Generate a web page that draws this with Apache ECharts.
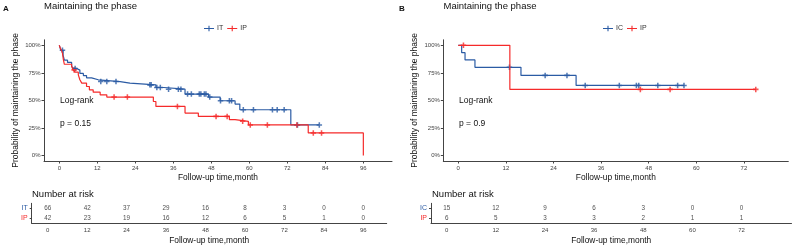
<!DOCTYPE html>
<html lang="en">

<head>
    <meta charset="UTF-8">
    <title>Maintaining the phase</title>
    <script src="https://cdn.jsdelivr.net/npm/echarts@6/dist/echarts.min.js"></script>
    <style>
        html, body { margin: 0; padding: 0; background: #fff; }
        #km { width: 795px; height: 248px; }
    </style>
</head>

<body>
    <div id="km"></div>
    <script>
        // ---- data ----
        const monthTicksA = [0, 12, 24, 36, 48, 60, 72, 84, 96];
        const monthTicksB = [0, 12, 24, 36, 48, 60, 72];
        const pctTicks = [0, 0.25, 0.5, 0.75, 1];

        // panel A, IT
        const itTime = [0, 0.5, 1.2, 1.6, 2.6, 3.9, 4.4, 5.5, 6.5, 7.6, 8.6, 10.2, 12.3, 19.2, 22.3, 30.5, 33.0, 39.7, 47.1, 50.8, 55.5, 57.0, 73.1, 82.1];
        const itSurv = [1, 0.955, 0.91, 0.865, 0.845, 0.81, 0.79, 0.775, 0.745, 0.725, 0.705, 0.687, 0.671, 0.657, 0.641, 0.617, 0.602, 0.557, 0.53, 0.497, 0.467, 0.415, 0.277, 0.277];
        const itCensor = [1.0, 5.0, 13.1, 15.0, 17.9, 28.6, 29.0, 30.8, 31.9, 34.5, 37.6, 38.4, 40.5, 41.7, 44.2, 44.7, 45.8, 46.3, 47.5, 50.9, 53.7, 54.4, 58.1, 61.3, 67.3, 68.8, 71.0, 75.2, 82.1];
        // panel A, IP
        const ipaTime = [0, 0.3, 0.7, 1.0, 1.3, 1.6, 3.9, 4.4, 5.0, 6.0, 6.5, 7.1, 8.6, 9.5, 10.7, 12.9, 15.0, 29.7, 30.5, 39.7, 43.9, 53.7, 55.5, 59.7, 78.6, 96];
        const ipaSurv = [1, 0.976, 0.952, 0.929, 0.867, 0.828, 0.807, 0.777, 0.756, 0.732, 0.687, 0.657, 0.626, 0.596, 0.575, 0.551, 0.53, 0.49, 0.445, 0.385, 0.355, 0.325, 0.31, 0.277, 0.205, 0];
        const ipaCensor = [4.7, 17.3, 21.5, 37.3, 49.5, 53.0, 57.9, 60.3, 65.7, 75.0, 80.2, 82.8];

        // panel B, IC
        const icTime = [0, 0.85, 1.7, 4.2, 15.8, 29.7, 57.0];
        const icSurv = [1, 0.933, 0.867, 0.8, 0.727, 0.636, 0.636];
        const icCensor = [12.9, 21.9, 27.4, 32.0, 40.6, 44.9, 45.5, 50.3, 55.3, 56.9];
        // panel B, IP
        const ipbTime = [0, 13.0, 75.0];
        const ipbSurv = [1, 0.6, 0.6];
        const ipbCensor = [1.3, 45.9, 53.4, 75.0];

        // number at risk
        const riskIT = [66, 42, 37, 29, 16, 8, 3, 0, 0];
        const riskIPa = [42, 23, 19, 16, 12, 6, 5, 1, 0];
        const riskIC = [15, 12, 9, 6, 3, 0, 0];
        const riskIPb = [6, 5, 3, 3, 2, 1, 1];

        const BLUE = '#2B5BA4';
        const RED = '#F52A2A';
        const FONT = 'Liberation Sans, Arial, sans-serif';
        const PLUS = 'path://M1.8,0H3.2V1.8H5V3.2H3.2V5H1.8V3.2H0V1.8H1.8Z';
        const LEG_ICON = 'path://M0,2.6H10V3.4H0Z M4.45,0.3H5.55V5.7H4.45Z M2.9,2.4H7.1V3.6H2.9Z';

        function survAt(times, surv, t) {
            let v = surv[0];
            for (let i = 0; i < times.length; i++) {
                if (times[i] <= t) v = surv[i];
            }
            return v;
        }
        function curve(times, surv) {
            return times.map((t, i) => [t, surv[i]]);
        }
        function marks(times, surv, cens) {
            return cens.map(t => [t, survAt(times, surv, t)]);
        }

        function kmLine(name, color, times, surv, idx) {
            return {
                name: name, type: 'line', step: 'end', xAxisIndex: idx, yAxisIndex: idx,
                symbol: 'none', data: curve(times, surv),
                lineStyle: { color: color, width: 1.2 }, itemStyle: { color: color }
            };
        }
        function kmCensor(name, color, times, surv, cens, idx) {
            return {
                name: name, type: 'scatter', xAxisIndex: idx, yAxisIndex: idx,
                symbol: PLUS, symbolSize: 5.5, data: marks(times, surv, cens),
                itemStyle: { color: color }
            };
        }
        function riskRow(name, ticks, values, idx) {
            return {
                name: 'risk-' + name, type: 'scatter', xAxisIndex: idx, yAxisIndex: idx,
                symbolSize: 0, silent: true,
                data: ticks.map((t, i) => [t, name, values[i]]),
                label: {
                    show: true, position: 'inside', formatter: p => p.value[2],
                    color: '#222', fontSize: 6.3, fontFamily: FONT
                }
            };
        }

        const axisLine = { show: true, onZero: false, lineStyle: { color: '#444', width: 1 } };
        const tickLbl = { color: '#444', fontSize: 6, fontFamily: FONT };

        function mainX(idx, min, max, ticks) {
            return {
                type: 'value', gridIndex: idx, min: min, max: max,
                name: 'Follow-up time,month', nameLocation: 'middle', nameGap: 12.5,
                nameTextStyle: { color: '#111', fontSize: 8.4, fontFamily: FONT },
                axisLine: axisLine, splitLine: { show: false },
                axisTick: { show: true, length: 2.5, customValues: ticks, lineStyle: { color: '#444' } },
                axisLabel: Object.assign({ margin: 4, customValues: ticks }, tickLbl)
            };
        }
        function mainY(idx) {
            return {
                type: 'value', gridIndex: idx, min: -0.05, max: 1.05,
                name: 'Probability of maintaining the phase', nameLocation: 'middle', nameGap: 24,
                nameTextStyle: { color: '#111', fontSize: 8.5, fontFamily: FONT },
                axisLine: axisLine, splitLine: { show: false },
                axisTick: { show: true, length: 2.5, customValues: pctTicks, lineStyle: { color: '#444' } },
                axisLabel: Object.assign({
                    margin: 3.5, customValues: pctTicks,
                    formatter: v => Math.round(v * 100) + '%'
                }, tickLbl)
            };
        }
        function riskX(idx, min, max, ticks) {
            return {
                type: 'value', gridIndex: idx, min: min, max: max,
                name: 'Follow-up time,month', nameLocation: 'middle', nameGap: 13,
                nameTextStyle: { color: '#111', fontSize: 8.4, fontFamily: FONT },
                axisLine: axisLine, splitLine: { show: false },
                axisTick: { show: false },
                axisLabel: Object.assign({ margin: 4.5, customValues: ticks }, tickLbl)
            };
        }
        function riskY(idx, rows, colors) {
            return {
                type: 'category', gridIndex: idx, data: rows,
                axisLine: axisLine, splitLine: { show: false },
                axisTick: { show: true, length: 2, alignWithLabel: true, lineStyle: { color: '#444' } },
                axisLabel: {
                    margin: 4, fontSize: 7, fontFamily: FONT,
                    color: (v) => colors[rows.indexOf(v)]
                }
            };
        }

        function txt(x, y, s, size, extra) {
            return {
                type: 'text', x: x, y: y, silent: true,
                style: Object.assign({
                    text: s, fill: '#111', font: size + 'px ' + FONT, verticalAlign: 'middle'
                }, extra || {})
            };
        }

        const chart = echarts.init(document.getElementById('km'));
        chart.setOption({
            animation: false,
            backgroundColor: '#fff',
            grid: [
                { left: 44, top: 39.8, width: 348, height: 121.2 },
                { left: 31.7, top: 203.3, width: 355, height: 20 },
                { left: 443.3, top: 39.8, width: 345, height: 121.2 },
                { left: 431, top: 203.3, width: 360.5, height: 20 }
            ],
            xAxis: [
                mainX(0, -4.83, 105.05, monthTicksA),
                riskX(1, -4.87, 103.1, monthTicksA),
                mainX(2, -3.78, 83.2, monthTicksB),
                riskX(3, -3.83, 84.2, monthTicksB)
            ],
            yAxis: [
                mainY(0),
                riskY(1, ['IP', 'IT'], [RED, BLUE]),
                mainY(2),
                riskY(3, ['IP', 'IC'], [RED, BLUE])
            ],
            legend: [
                {
                    data: ['IT', 'IP'], left: 199, top: 20, itemGap: 4, itemWidth: 10, itemHeight: 6,
                    icon: LEG_ICON, textStyle: { fontSize: 7, fontFamily: FONT, color: '#333', padding: [0, 0, 0, -2] }
                },
                {
                    data: ['IC', 'IP'], left: 598, top: 20, itemGap: 4, itemWidth: 10, itemHeight: 6,
                    icon: LEG_ICON, textStyle: { fontSize: 7, fontFamily: FONT, color: '#333', padding: [0, 0, 0, -2] }
                }
            ],
            graphic: [
                txt(3, 8.3, 'A', 8, { font: 'bold 8px ' + FONT }),
                txt(44, 6.8, 'Maintaining the phase', 9.5),
                txt(60, 100.7, 'Log-rank', 8.5),
                txt(60, 123.3, 'p = 0.15', 8.5),
                txt(32, 194, 'Number at risk', 9.5),
                txt(399, 8.3, 'B', 8, { font: 'bold 8px ' + FONT }),
                txt(443.5, 6.8, 'Maintaining the phase', 9.5),
                txt(459, 100.7, 'Log-rank', 8.5),
                txt(459, 123.3, 'p = 0.9', 8.5),
                txt(432, 194, 'Number at risk', 9.5)
            ],
            series: [
                kmLine('IT', BLUE, itTime, itSurv, 0),
                kmLine('IP', RED, ipaTime, ipaSurv, 0),
                kmCensor('IT', BLUE, itTime, itSurv, itCensor, 0),
                kmCensor('IP', RED, ipaTime, ipaSurv, ipaCensor, 0),
                riskRow('IT', monthTicksA, riskIT, 1),
                riskRow('IP', monthTicksA, riskIPa, 1),
                kmLine('IC', BLUE, icTime, icSurv, 2),
                kmLine('IP', RED, ipbTime, ipbSurv, 2),
                kmCensor('IC', BLUE, icTime, icSurv, icCensor, 2),
                kmCensor('IP', RED, ipbTime, ipbSurv, ipbCensor, 2),
                riskRow('IC', monthTicksB, riskIC, 3),
                riskRow('IP', monthTicksB, riskIPb, 3)
            ]
        });
    </script>
</body>

</html>
